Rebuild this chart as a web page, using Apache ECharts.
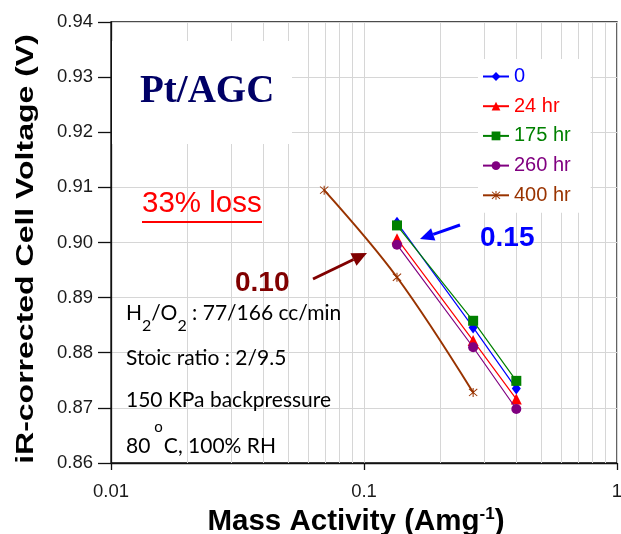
<!DOCTYPE html>
<html><head><meta charset="utf-8">
<script src="https://cdn.jsdelivr.net/npm/echarts@6/dist/echarts.min.js"></script>
<style>html,body{margin:0;padding:0;background:#fff}#c{width:621px;height:534px}</style>
</head><body><div id="c"></div>
<script>
// ---- data ----
const seriesNames = ['0', '24 hr', '175 hr', '260 hr', '400 hr'];
const massActivity = [0.135, 0.27, 0.40];
const massActivity400 = [0.0696, 0.135, 0.27];
const volt0 = [0.9036, 0.8846, 0.8735];
const volt24 = [0.9007, 0.8822, 0.8716];
const volt175 = [0.9031, 0.8858, 0.8749];
const volt260 = [0.8996, 0.8810, 0.8698];
const volt400 = [0.9095, 0.8937, 0.8728];
const xMinorGrid = [0.02, 0.03, 0.04, 0.05, 0.06, 0.07, 0.08, 0.09, 0.2, 0.3, 0.4, 0.5, 0.6, 0.7, 0.8, 0.9];
const yMin = 0.86, yMax = 0.94, yStep = 0.01;

// ---- styles ----
const colors = ['#0000ff', '#ff0000', '#008000', '#800080', '#993300'];
const asterisk = 'path://M9 0L11 0L11 20L9 20Z M1.3 2.7L2.7 1.3L18.7 17.3L17.3 18.7Z M17.3 1.3L18.7 2.7L2.7 18.7L1.3 17.3Z';
const symbols = ['diamond', 'triangle', 'rect', 'circle', asterisk];
const symbolSizes = [[9, 12], 11, 10, 10, 9];
const xs = [massActivity, massActivity, massActivity, massActivity, massActivity400];
const ys = [volt0, volt24, volt175, volt260, volt400];
const gridColor = '#d6d6d6';
const AR = '"Liberation Sans", Arial, sans-serif';
const INFO = 'Lato, "Open Sans", sans-serif';

const chart = echarts.init(document.getElementById('c'), null, {renderer: 'canvas'});

const series = seriesNames.map((name, i) => ({
  name: name,
  type: 'line',
  data: xs[i].map((x, k) => [x, ys[i][k]]),
  symbol: symbols[i],
  symbolSize: symbolSizes[i],
  smooth: i === 4 ? 0.35 : false,
  itemStyle: {color: colors[i]},
  lineStyle: {color: colors[i], width: i === 4 ? 2 : 1.2},
  z: 5 + i
}));

series.unshift({
  name: '_grid',
  type: 'line',
  data: [],
  silent: true,
  z: 0,
  markLine: {
    z: 1,
    silent: true,
    symbol: ['none', 'none'],
    label: {show: false},
    lineStyle: {color: gridColor, type: 'solid', width: 1},
    data: xMinorGrid.map(v => ({xAxis: v}))
  }
});

function arrow(tail, tip, color, len, half, w) {
  const dx = tip[0] - tail[0], dy = tip[1] - tail[1];
  const L = Math.hypot(dx, dy);
  const ux = dx / L, uy = dy / L;
  const bx = tip[0] - len * ux, by = tip[1] - len * uy;
  const nx = -uy, ny = ux;
  return [
    {type: 'line', z: 20, shape: {x1: tail[0], y1: tail[1], x2: bx, y2: by}, style: {stroke: color, lineWidth: w}},
    {type: 'polygon', z: 20, shape: {points: [[tip[0], tip[1]], [bx + half * nx, by + half * ny], [bx - half * nx, by - half * ny]]}, style: {fill: color}}
  ];
}

const option = {
  animation: false,
  backgroundColor: '#fff',
  grid: {left: 111, right: 4, top: 22, bottom: 71, outerBoundsMode: 'none', containLabel: false,
    show: true, borderColor: '#111', borderWidth: 1.3, backgroundColor: 'transparent'},
  xAxis: {
    type: 'log', logBase: 10, min: 0.01, max: 1,
    axisLine: {lineStyle: {color: '#111', width: 1.3}},
    axisTick: {show: true, length: 7, lineStyle: {color: '#111', width: 1.3}},
    axisLabel: {fontSize: 18.5, color: '#1a1a1a', margin: 19, fontFamily: AR},
    splitLine: {show: true, lineStyle: {color: gridColor, width: 1}},
    minorTick: {show: false},
    name: '{t|Mass Activity (Amg}{sup|-1}{t|)}',
    nameLocation: 'middle', nameGap: 36,
    nameTextStyle: {
      padding: [0, 16, 0, 0],
      rich: {
        t: {fontSize: 29.5, fontWeight: 'bold', fontFamily: AR, color: '#000'},
        sup: {fontSize: 17, fontWeight: 'bold', fontFamily: AR, color: '#000', padding: [0, 0, 14, 0]}
      }
    }
  },
  yAxis: {
    type: 'value', min: yMin, max: yMax, interval: yStep,
    axisLine: {show: true, lineStyle: {color: '#111', width: 1.3}},
    axisTick: {show: true, length: 13, lineStyle: {color: '#111', width: 1.3}},
    axisLabel: {fontSize: 18.5, color: '#1a1a1a', margin: 18, fontFamily: AR, formatter: v => v.toFixed(2)},
    splitLine: {show: true, lineStyle: {color: gridColor, width: 1}}
  },
  legend: {
    z: 10,
    data: seriesNames.map((n, i) => ({name: n, textStyle: {color: colors[i]}})),
    orient: 'vertical', left: 478, top: 59,
    padding: [7.5, 20, 7.5, 4], itemGap: 9.7,
    itemWidth: 26, itemHeight: 11,
    backgroundColor: '#fff',
    textStyle: {fontSize: 20, fontFamily: AR, lineHeight: 20}
  },
  series: series,
  graphic: [
    {type: 'rect', z: 3, shape: {x: 112, y: 41, width: 180, height: 103}, style: {fill: '#fff'}},
    {type: 'text', z: 20, x: 26.5, y: 249, rotation: Math.PI / 2, scaleX: 1, scaleY: 0.77,
      style: {text: 'iR-corrected Cell Voltage (V)', font: 'bold 32px ' + AR, fill: '#000', align: 'center', verticalAlign: 'middle'}},
    {type: 'text', z: 20, x: 140, y: 92, style: {text: 'Pt/AGC', font: 'bold 39px "Liberation Serif", "Times New Roman", serif', fill: '#000066', verticalAlign: 'middle', align: 'left'}},
    {type: 'text', z: 20, x: 142, y: 204, style: {text: '33% loss', font: '29.5px ' + AR, fill: '#ff0000', verticalAlign: 'middle', align: 'left'}},
    {type: 'line', z: 20, shape: {x1: 142, y1: 222, x2: 262, y2: 222}, style: {stroke: '#ff0000', lineWidth: 2}},
    {type: 'text', z: 20, x: 235, y: 283, style: {text: '0.10', font: 'bold 28px ' + AR, fill: '#800000', verticalAlign: 'middle', align: 'left'}},
    {type: 'text', z: 20, x: 480, y: 238, style: {text: '0.15', font: 'bold 28px ' + AR, fill: '#0000ff', verticalAlign: 'middle', align: 'left'}},
    ...arrow([460, 225], [420, 239], '#0000ff', 14, 6.5, 3),
    ...arrow([313, 279], [367, 253], '#800000', 15, 7, 3),
    {type: 'text', z: 20, x: 126, y: 313, style: {
      text: '{n|H}{s|2}{n|/O}{s|2}{n| : 77/166 cc/min}', verticalAlign: 'middle', align: 'left',
      rich: {n: {fontSize: 21, fontFamily: INFO, fill: '#000', color: '#000'}, s: {fontSize: 16, fontFamily: INFO, color: '#000', fill: '#000', padding: [25, 0, 0, 0]}}
    }},
    {type: 'text', z: 20, x: 126, y: 358, style: {text: 'Stoic ratio : 2/9.5', font: '21px ' + INFO, fill: '#000', verticalAlign: 'middle', align: 'left'}},
    {type: 'text', z: 20, x: 126, y: 400, style: {text: '150 KPa backpressure', font: '21px ' + INFO, fill: '#000', verticalAlign: 'middle', align: 'left'}},
    {type: 'text', z: 20, x: 126, y: 446, style: {
      text: '{n|80}{sup|o}{n|C, 100% RH}', verticalAlign: 'middle', align: 'left',
      rich: {n: {fontSize: 21, fontFamily: INFO, color: '#000', fill: '#000'}, sup: {fontSize: 15, fontFamily: INFO, color: '#000', fill: '#000', padding: [0, 1, 38, 4]}}
    }}
  ]
};
chart.setOption(option);
</script>
</body></html>
